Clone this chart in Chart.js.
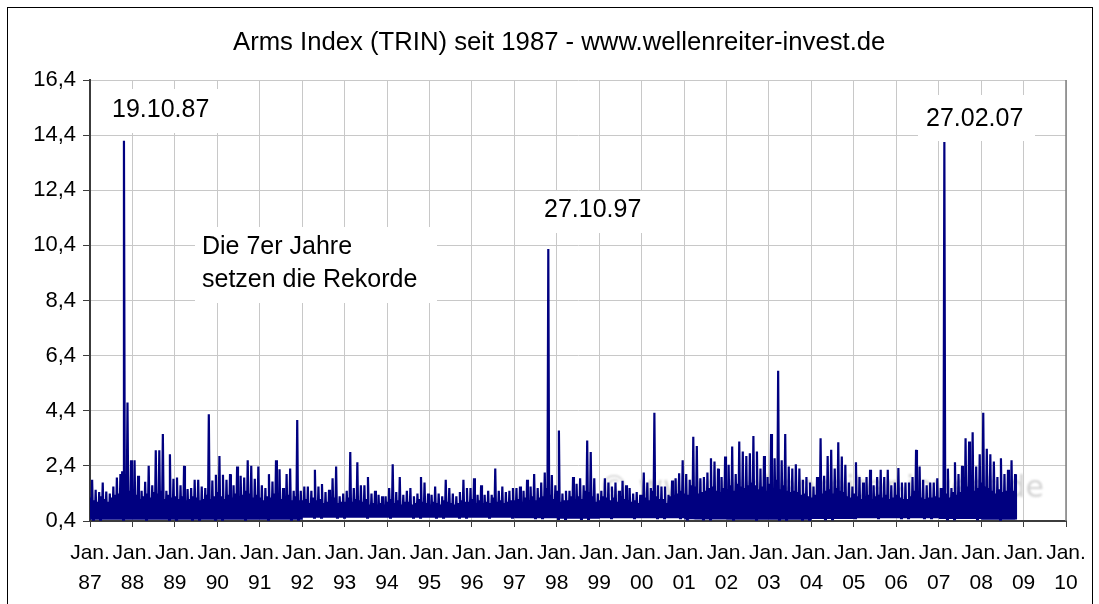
<!DOCTYPE html>
<html>
<head>
<meta charset="utf-8">
<title>Arms Index (TRIN) seit 1987</title>
<script src="https://cdn.jsdelivr.net/npm/chart.js@4.4.1/dist/chart.umd.min.js"></script>
<style>
  html, body { margin: 0; padding: 0; background: #fff; }
  #wrap { position: relative; width: 1099px; height: 604px; }
</style>
</head>
<body>
<div id="wrap"><canvas id="trinChart" width="1099" height="604"></canvas></div>
<script>
// ============================================================
// 1. Daten
// ============================================================
const FONT = "'Liberation Sans', Arial, sans-serif";
const FIRST_YEAR = 1987;

const yearTicks = [1987, 1988, 1989, 1990, 1991, 1992, 1993, 1994, 1995, 1996, 1997, 1998,
                   1999, 2000, 2001, 2002, 2003, 2004, 2005, 2006, 2007, 2008, 2009, 2010];
const yTicks = [0.4, 2.4, 4.4, 6.4, 8.4, 10.4, 12.4, 14.4, 16.4];

// untere Kante des Bandes je Jahr (1987 ... 2008)
const bandLow = [0.45, 0.45, 0.45, 0.45, 0.45, 0.52, 0.52, 0.52, 0.52, 0.52, 0.5,
                 0.48, 0.5, 0.5, 0.46, 0.45, 0.45, 0.47, 0.5, 0.5, 0.47, 0.45];

// obere Kante des dichten Bandes je Monat (Jan. 87 ... Okt. 08)
const monthlyBand = [
  1.25, 1.15, 1.1, 1.3, 1.2, 1.1, 1.25, 1.35, 1.4, 2.2, 1.7, 1.5,          // 1987
  1.5, 1.35, 1.2, 1.3, 1.4, 1.25, 1.45, 1.4, 1.5, 1.2, 1.35, 1.25,         // 1988
  1.3, 1.2, 1.3, 1.15, 1.2, 1.3, 1.25, 1.15, 1.2, 1.35, 1.2, 1.3,          // 1989
  1.45, 1.3, 1.2, 1.35, 1.25, 1.4, 1.3, 1.35, 1.5, 1.4, 1.25, 1.35,        // 1990
  1.25, 1.15, 1.3, 1.25, 1.4, 1.3, 1.2, 1.25, 1.35, 1.15, 1.3, 1.15,       // 1991
  1.15, 1.2, 1.05, 1.25, 1.15, 1.2, 1.05, 1.1, 1.2, 1.25, 1.05, 1.1,       // 1992
  1.1, 1.25, 1.1, 1.2, 1.15, 1.1, 1.2, 1.0, 1.05, 1.0, 1.05, 1.0,          // 1993
  1.1, 1.2, 1.05, 1.15, 1.0, 1.1, 1.1, 1.0, 1.05, 1.2, 1.1, 1.05,          // 1994
  1.0, 1.1, 1.05, 1.0, 1.15, 1.1, 1.05, 1.0, 1.05, 1.15, 1.1, 1.1,         // 1995
  1.2, 1.05, 1.15, 1.05, 1.1, 1.05, 1.25, 1.1, 1.15, 1.05, 1.1, 1.15,      // 1996
  1.15, 1.2, 1.1, 1.25, 1.15, 1.3, 1.15, 1.25, 1.3, 1.6, 1.35, 1.2,        // 1997
  1.5, 1.1, 1.15, 1.15, 1.3, 1.2, 1.3, 1.2, 1.5, 1.45, 1.3, 1.1,           // 1998
  1.15, 1.3, 1.25, 1.15, 1.25, 1.1, 1.3, 1.2, 1.15, 1.1, 1.15, 1.05,       // 1999
  1.35, 1.25, 1.15, 1.5, 1.3, 1.2, 1.2, 1.05, 1.3, 1.35, 1.4, 1.5,         // 2000
  1.4, 1.35, 1.7, 1.65, 1.4, 1.45, 1.5, 1.6, 1.65, 1.5, 1.45, 1.6,         // 2001
  1.55, 1.7, 1.5, 1.75, 1.65, 1.6, 1.7, 1.8, 1.7, 1.55, 1.65, 1.5,         // 2002
  1.75, 1.6, 1.9, 1.55, 1.7, 1.5, 1.45, 1.5, 1.45, 1.35, 1.4, 1.3,         // 2003
  1.25, 1.35, 1.6, 1.4, 1.5, 1.55, 1.4, 1.6, 1.5, 1.45, 1.3, 1.25,         // 2004
  1.4, 1.3, 1.2, 1.3, 1.35, 1.2, 1.3, 1.35, 1.25, 1.35, 1.2, 1.25,         // 2005
  1.35, 1.25, 1.2, 1.2, 1.3, 1.5, 1.4, 1.25, 1.2, 1.25, 1.25, 1.3,         // 2006
  1.25, 1.6, 1.4, 1.25, 1.45, 1.35, 1.45, 1.7, 1.65, 1.7, 1.5, 1.6,        // 2007
  1.8, 1.65, 1.6, 1.5, 1.4, 1.55, 1.45, 1.5, 1.6, 1.5                     // 2008
];

// Monatshoch (Jan. 87 ... Okt. 08)
const monthlyHigh = [
  1.9, 1.53, 1.45, 1.8, 1.47, 1.4, 1.65, 1.98, 2.1, 14.2, 4.7, 2.6,        // 1987
  2.6, 2.04, 1.5, 1.82, 2.4, 1.7, 2.97, 2.97, 3.56, 1.5, 2.82, 1.93,       // 1988
  1.98, 1.7, 2.4, 1.56, 1.6, 1.9, 1.9, 1.65, 1.6, 4.27, 1.87, 2.08,        // 1989
  2.76, 2.08, 1.9, 2.1, 1.7, 2.38, 2.04, 1.98, 2.6, 2.4, 1.93, 2.38,       // 1990
  1.7, 1.6, 2.1, 1.83, 2.6, 2.28, 1.6, 2.1, 2.3, 1.5, 4.06, 1.5,           // 1991
  1.65, 1.65, 1.5, 2.26, 1.65, 1.74, 1.45, 1.53, 1.95, 2.38, 1.3, 1.4,     // 1992
  1.5, 2.9, 1.6, 2.53, 1.7, 1.7, 2.0, 1.4, 1.5, 1.35, 1.3, 1.3,            // 1993
  1.6, 2.46, 1.45, 2.0, 1.35, 1.5, 1.6, 1.3, 1.4, 2.0, 1.8, 1.4,           // 1994
  1.35, 1.65, 1.4, 1.3, 1.9, 1.6, 1.4, 1.3, 1.45, 1.9, 1.6, 1.6,          // 1995
  1.95, 1.35, 1.7, 1.35, 1.5, 1.35, 2.3, 1.5, 1.65, 1.45, 1.5, 1.6,        // 1996
  1.6, 1.65, 1.5, 1.9, 1.65, 2.1, 1.6, 1.8, 2.16, 10.27, 2.07, 1.7,        // 1997
  3.68, 1.4, 1.5, 1.5, 2.0, 1.75, 1.95, 1.7, 3.32, 2.9, 1.95, 1.4,         // 1998
  1.5, 1.95, 1.8, 1.65, 1.8, 1.5, 1.86, 1.7, 1.6, 1.4, 1.45, 1.35,         // 1999
  2.16, 1.8, 1.6, 4.33, 1.7, 1.65, 1.65, 1.35, 1.87, 1.95, 2.13, 2.6,      // 2000
  2.1, 1.9, 3.46, 3.12, 1.95, 2.0, 2.16, 2.68, 2.56, 2.3, 2.0, 2.74,       // 2001
  2.44, 3.1, 2.1, 3.28, 2.92, 2.76, 2.86, 3.48, 2.92, 2.3, 2.76, 2.0,      // 2002
  3.56, 2.68, 5.85, 2.6, 3.56, 2.38, 2.3, 2.46, 2.3, 1.9, 2.0, 1.8,        // 2003
  1.65, 2.0, 3.4, 2.04, 2.76, 2.98, 2.3, 3.26, 2.74, 2.44, 1.8, 1.65,      // 2004
  2.53, 2.0, 1.8, 2.0, 2.26, 1.7, 2.0, 2.26, 2.0, 2.26, 1.7, 1.8,          // 2005
  2.32, 1.8, 1.8, 1.8, 2.0, 2.98, 2.38, 1.9, 1.7, 1.8, 1.8, 1.95,          // 2006
  1.6, 14.15, 2.3, 1.6, 2.53, 2.1, 2.4, 3.4, 3.28, 3.62, 2.38, 2.82,       // 2007
  4.33, 3.02, 2.82, 2.56, 2.0, 2.68, 2.1, 2.26, 2.6, 2.1                   // 2008
];

// Beschriftungen im Diagramm
const notes = [
  { lines: ['19.10.87'], x: 112, y: 117, box: [100, 89, 130, 44] },
  { lines: ['27.10.97'], x: 544, y: 217, box: [530, 191, 128, 42] },
  { lines: ['27.02.07'], x: 926, y: 126, box: [918, 95, 117, 46] },
  { lines: ['Die 7er Jahre', 'setzen die Rekorde'], x: 202, y: 254, box: [195, 227, 242, 76] }
];

// ============================================================
// 2. Punkte je Monat aufbauen: Band, Tief, Hoch, Tief
// ============================================================
const points = [];
monthlyHigh.forEach((hi, m) => {
  const yr = Math.floor(m / 12);
  const t = FIRST_YEAR + m / 12;
  points.push({ x: t + 0.10 / 12, y: monthlyBand[m] });
  points.push({ x: t + 0.35 / 12, y: bandLow[yr] });
  points.push({ x: t + 0.60 / 12, y: hi });
  points.push({ x: t + 0.85 / 12, y: bandLow[yr] });
});

// ============================================================
// 3. Zusatz-Zeichnungen (Titel, Wasserzeichen, Texte, Rahmen)
// ============================================================
const extrasPlugin = {
  id: 'extras',
  beforeDatasetsDraw(chart) {
    const ctx = chart.ctx;
    ctx.save();
    ctx.filter = 'blur(1.2px)';
    ctx.fillStyle = '#d2d2d2';
    ctx.font = "30px 'DejaVu Sans', sans-serif";
    ctx.textAlign = 'right';
    ctx.textBaseline = 'alphabetic';
    ctx.fillText('© www.wellenreiter-invest.de', 1044, 497);
    ctx.restore();
  },
  afterDraw(chart) {
    const ctx = chart.ctx;
    const area = chart.chartArea;
    ctx.save();

    // rechte Begrenzung der Zeichenfläche
    ctx.strokeStyle = '#808080';
    ctx.lineWidth = 1.5;
    ctx.beginPath();
    ctx.moveTo(area.right, area.top);
    ctx.lineTo(area.right, area.bottom);
    ctx.stroke();

    // Textfelder
    ctx.font = '25px ' + FONT;
    ctx.textAlign = 'left';
    ctx.textBaseline = 'alphabetic';
    notes.forEach(n => {
      ctx.fillStyle = '#fff';
      ctx.fillRect(n.box[0], n.box[1], n.box[2], n.box[3]);
      ctx.fillStyle = '#000';
      n.lines.forEach((line, i) => ctx.fillText(line, n.x, n.y + i * 33));
    });

    // Titel
    ctx.font = '25.7px ' + FONT;
    ctx.fillText('Arms Index (TRIN) seit 1987 - www.wellenreiter-invest.de', 233, 50);

    // Rahmen
    ctx.strokeStyle = '#000';
    ctx.lineWidth = 1;
    ctx.strokeRect(7.5, 7.5, 1085, 620);
    ctx.restore();
  }
};

// ============================================================
// 4. Diagramm
// ============================================================
const ctx = document.getElementById('trinChart').getContext('2d');
const trinChart = new Chart(ctx, {
  type: 'line',
  data: {
    datasets: [{
      label: 'TRIN',
      data: points,
      borderColor: '#000080',
      backgroundColor: '#000080',
      borderWidth: 2.2,
      pointRadius: 0,
      tension: 0,
      fill: false
    }]
  },
  options: {
    responsive: false,
    animation: false,
    layout: { padding: { left: 10, top: 80, right: 33, bottom: 0 } },
    scales: {
      x: {
        type: 'linear',
        min: 1987,
        max: 2010,
        afterBuildTicks: s => { s.ticks = yearTicks.map(v => ({ value: v })); },
        afterFit: s => { s.height = 83; },
        ticks: {
          autoSkip: false,
          maxRotation: 0,
          minRotation: 0,
          padding: 11,
          color: '#000',
          font: { family: FONT, size: 21, lineHeight: 1.43 },
          callback: v => ['Jan.', String(v % 100).padStart(2, '0')]
        },
        grid: { color: '#c8c8c8', tickColor: '#3c3c3c', tickLength: 6 },
        border: { color: '#3c3c3c', width: 2 }
      },
      y: {
        min: 0.4,
        max: 16.4,
        afterBuildTicks: s => { s.ticks = yTicks.map(v => ({ value: v })); },
        afterFit: s => { s.width = 80; },
        ticks: {
          padding: 7,
          color: '#000',
          font: { family: FONT, size: 22 },
          callback: v => v.toFixed(1).replace('.', ',')
        },
        grid: { color: '#c8c8c8', tickColor: '#3c3c3c', tickLength: 7 },
        border: { color: '#3c3c3c', width: 2 }
      }
    },
    plugins: {
      legend: { display: false },
      tooltip: { enabled: false },
      title: { display: false }
    }
  },
  plugins: [extrasPlugin]
});
</script>
</body>
</html>
